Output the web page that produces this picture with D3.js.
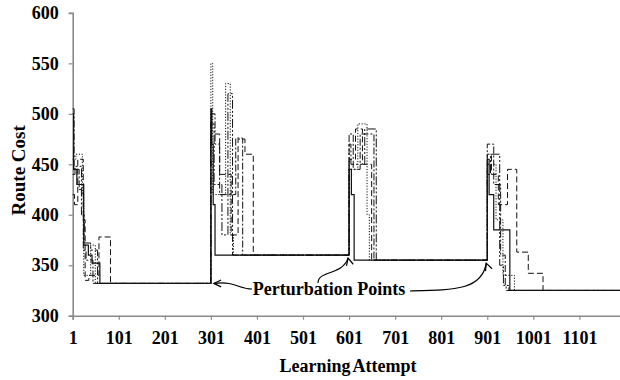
<!DOCTYPE html>
<html>
<head>
<meta charset="utf-8">
<script src="https://cdn.jsdelivr.net/npm/d3@7"></script>
<style>
  body { margin: 0; background: #fff; }
  svg { display: block; }
</style>
</head>
<body>
<svg width="620" height="380"></svg>
<script>
// change points [attempt, route cost]; each value holds until the next point
const solidRun = [[1,500],[3,445],[10,430],[25,370],[35,360],[43,352],[60,332],[301,505],[303,470],[306,410],[310,360],[601,445],[606,420],[612,355],[901,455],[905,420],[915,385],[950,325],[1200,325]];
const dashedRun = [[1,420],[5,410],[12,455],[24,395],[28,335],[36,340],[58,378],[83,332],[301,480],[320,440],[345,380],[360,475],[375,460],[393,360],[601,455],[615,485],[630,450],[650,355],[901,460],[910,440],[925,410],[945,445],[965,363],[990,342],[1022,325],[1200,325]];
const dottedRun = [[1,455],[8,460],[22,420],[25,340],[40,370],[50,332],[301,550],[305,420],[333,530],[343,380],[350,360],[601,445],[620,490],[640,400],[645,355],[901,450],[920,395],[935,340],[960,325],[1200,325]];
const dashDotRun = [[1,505],[4,445],[15,425],[24,365],[30,355],[45,332],[301,500],[310,470],[320,420],[355,476],[370,360],[601,480],[610,445],[625,480],[655,355],[901,470],[915,430],[930,360],[940,330],[948,325],[1200,325]];
const dashDotDotRun = [[1,440],[6,448],[20,400],[26,372],[40,365],[55,332],[301,490],[308,430],[325,380],[338,520],[348,360],[601,470],[605,450],[635,485],[660,355],[901,440],[908,460],[928,350],[936,330],[942,325],[1200,325]];

const xTicks = [1,101,201,301,401,501,601,701,801,901,1001,1101];
const yTicks = [300,350,400,450,500,550,600];
const perturbations = [[301,332],[601,360],[901,355]];

const runs = [
  { data: dashedRun, dash: "6,3", w: 1 },
  { data: dottedRun, dash: "1.2,1.6", w: 1 },
  { data: dashDotDotRun, dash: "9,2,2,2,2,2", w: 1 },
  { data: dashDotRun, dash: "7,2,2,2", w: 1 },
  { data: solidRun, dash: null, w: 1.2 }
];

const svg = d3.select("svg");
const font = "'Liberation Serif', 'Times New Roman', serif";

const x = d3.scaleLinear().domain([1, 1200]).range([72.7, 625]);
const y = d3.scaleLinear().domain([300, 600]).range([315.7, 12.9]);

const axisColor = "#8a8a8a";

// y axis
const yAxis = d3.axisLeft(y).tickValues(yTicks).tickSize(4).tickPadding(10);
const gy = svg.append("g").attr("transform", "translate(72.7,0)").call(yAxis);
gy.select(".domain").attr("stroke", axisColor).attr("stroke-width", 1.6);
gy.selectAll(".tick line").attr("stroke", axisColor).attr("stroke-width", 1.2);
gy.selectAll(".tick text")
  .style("font-family", font).style("font-size", "18px").style("font-weight", "bold")
  .attr("fill", "#000");

// x axis
const xAxis = d3.axisBottom(x).tickValues(xTicks).tickFormat(d3.format("d")).tickSize(4).tickPadding(12);
const gx = svg.append("g").attr("transform", "translate(0,315.7)").call(xAxis);
gx.select(".domain").attr("stroke", axisColor).attr("stroke-width", 1.6);
gx.selectAll(".tick line").attr("stroke", axisColor).attr("stroke-width", 1.2);
gx.selectAll(".tick text")
  .style("font-family", font).style("font-size", "18px").style("font-weight", "bold")
  .attr("fill", "#000");

// series
const line = d3.line()
  .x(d => x(d[0]))
  .y(d => y(d[1]))
  .curve(d3.curveStepAfter);

svg.append("g").selectAll("path")
  .data(runs)
  .enter()
  .append("path")
  .attr("d", d => line(d.data))
  .attr("fill", "none")
  .attr("stroke", "#111")
  .attr("stroke-width", d => d.w)
  .attr("stroke-dasharray", d => d.dash);

// axis titles
svg.append("text")
  .attr("transform", "translate(25," + ((y(600) + y(300)) / 2 + 6) + ") rotate(-90)")
  .attr("text-anchor", "middle")
  .style("font-family", font).style("font-size", "19px").style("font-weight", "bold")
  .text("Route Cost");

svg.append("text")
  .attr("x", 348).attr("y", 372)
  .attr("text-anchor", "middle")
  .style("font-family", font).style("font-size", "18px").style("font-weight", "bold")
  .style("word-spacing", "-1.5px")
  .text("Learning Attempt");

// annotation
svg.append("text")
  .attr("x", 329).attr("y", 295)
  .attr("text-anchor", "middle")
  .style("font-family", font).style("font-size", "18px").style("font-weight", "bold")
  .text("Perturbation Points");

const tips = perturbations.map(p => [x(p[0]), y(p[1])]);
const arrows = [
  { d: `M252,289 C238,289 236,281 ${tips[0][0] + 3},${tips[0][1]}`, tip: [tips[0][0] + 3, tips[0][1]], ang: Math.PI },
  { d: `M318,283 C318,270 342,276 ${tips[1][0] - 1},${tips[1][1] + 3}`, tip: [tips[1][0] - 1, tips[1][1] + 3], ang: -Math.PI / 2 - 0.25 },
  { d: `M410,291 C455,290 482,290 ${tips[2][0] - 1},${tips[2][1] + 3}`, tip: [tips[2][0] - 1, tips[2][1] + 3], ang: -Math.PI / 2 - 0.35 }
];

const ag = svg.append("g").attr("fill", "none").attr("stroke", "#000").attr("stroke-width", 1.2);
arrows.forEach(a => {
  ag.append("path").attr("d", a.d);
  const L = 8, spread = 0.45;
  const back = a.ang + Math.PI;
  const p1 = [a.tip[0] + L * Math.cos(back - spread), a.tip[1] + L * Math.sin(back - spread)];
  const p2 = [a.tip[0] + L * Math.cos(back + spread), a.tip[1] + L * Math.sin(back + spread)];
  ag.append("path").attr("d", `M${p1[0]},${p1[1]} L${a.tip[0]},${a.tip[1]} L${p2[0]},${p2[1]}`);
});
</script>
</body>
</html>
